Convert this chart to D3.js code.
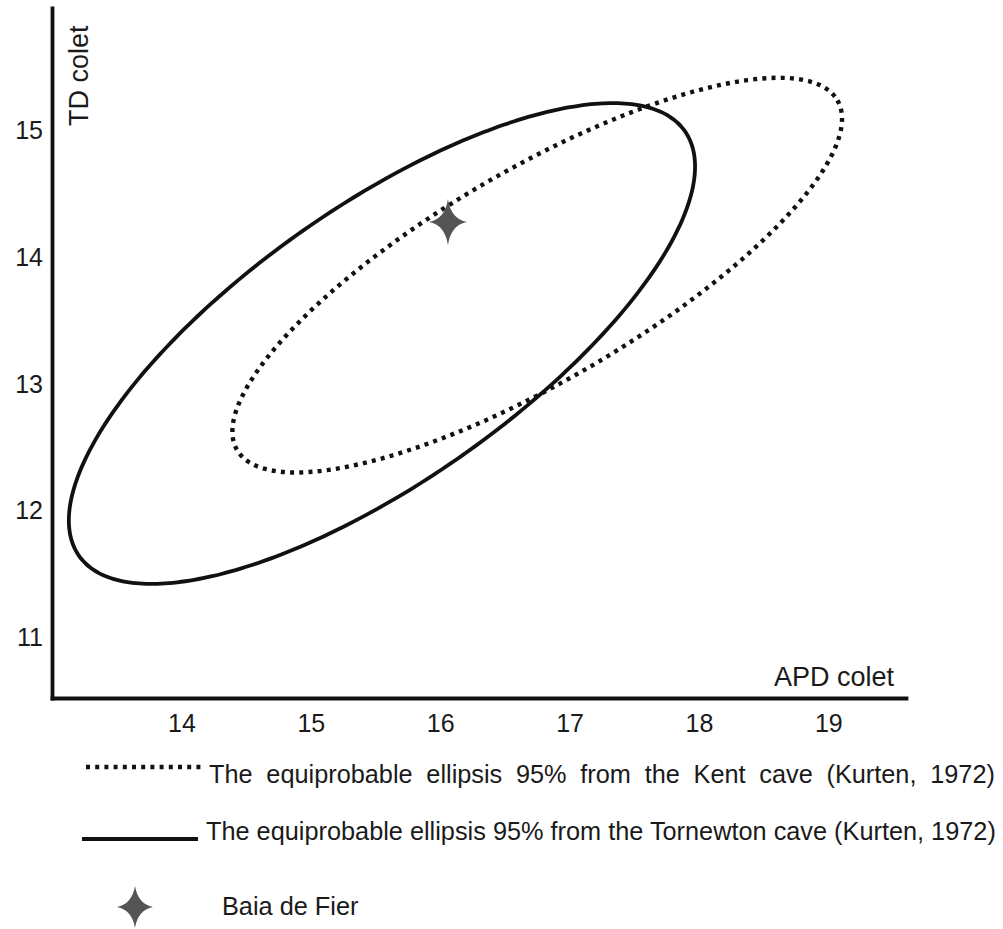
<!DOCTYPE html>
<html>
<head>
<meta charset="utf-8">
<script src="https://cdn.jsdelivr.net/npm/d3@7"></script>
<style>
  body { margin: 0; background: #fff; }
  text { font-family: "Liberation Sans", Arial, sans-serif; fill: #1a1a1a; }
</style>
</head>
<body>
<div class="canva"></div>
<script>
// tick values
const xTicks = [14, 15, 16, 17, 18, 19];
const yTicks = [11, 12, 13, 14, 15];

// ellipses (data units): centre, semi axes, tilt in degrees
const ellipseNames = ["Kent", "Tornewton"];
const ellipseCx = [16.75, 15.55];
const ellipseCy = [13.86, 13.32];
const ellipseA = [2.70, 2.88];
const ellipseB = [0.83, 1.08];
const ellipseAngle = [30.9, 35.8];

// Baia de Fier point
const pointX = [16.06];
const pointY = [14.28];

const legendLabels = [
  "The equiprobable ellipsis 95% from the Kent cave (Kurten, 1972)",
  "The equiprobable ellipsis 95% from the Tornewton cave (Kurten, 1972)",
  "Baia de Fier"
];

const svg = d3.select(".canva").append("svg")
  .attr("width", 1003)
  .attr("height", 929);

const x = d3.scaleLinear().domain([13, 19.6]).range([52, 906]);
const y = d3.scaleLinear().domain([10.52, 15.97]).range([698, 8]);

// axes
const xAxis = d3.axisBottom(x).tickValues(xTicks).tickFormat(d3.format("d"))
  .tickSize(0).tickSizeOuter(0).tickPadding(16);
const yAxis = d3.axisLeft(y).tickValues(yTicks).tickFormat(d3.format("d"))
  .tickSize(0).tickSizeOuter(0).tickPadding(9);

const gx = svg.append("g").attr("transform", `translate(0, ${y.range()[0]})`).call(xAxis);
const gy = svg.append("g").attr("transform", `translate(${x.range()[0]}, 0)`).call(yAxis);
[gx, gy].forEach(g => {
  g.attr("font-size", null).attr("font-family", null);
  g.select(".domain").attr("stroke", "#111").attr("stroke-width", 3.8).attr("stroke-linecap", "square");
  g.selectAll("text")
    .style("font-size", "25px").attr("fill", "#1a1a1a");
});

// axis titles
svg.append("text")
  .attr("text-anchor", "end")
  .attr("x", 894).attr("y", 686)
  .style("font-size", "27px")
  .text("APD colet");
svg.append("text")
  .attr("text-anchor", "start")
  .attr("transform", "translate(88, 126) rotate(-90)")
  .style("font-size", "27px")
  .text("TD colet");

// ellipse outlines sampled around the parametric angle
const steps = d3.range(0, 360, 2).map(d => d * Math.PI / 180);
const line = d3.line()
  .x(d => x(d[0]))
  .y(d => y(d[1]))
  .curve(d3.curveCardinalClosed);

function ellipsePoints(i) {
  const th = ellipseAngle[i] * Math.PI / 180;
  return steps.map(t => [
    ellipseCx[i] + ellipseA[i] * Math.cos(t) * Math.cos(th) - ellipseB[i] * Math.sin(t) * Math.sin(th),
    ellipseCy[i] + ellipseA[i] * Math.cos(t) * Math.sin(th) + ellipseB[i] * Math.sin(t) * Math.cos(th)
  ]);
}

const dotted = "4,5.2";

svg.selectAll("path.ellipse")
  .data(ellipseNames)
  .enter()
  .append("path")
  .attr("class", "ellipse")
  .attr("d", (d, i) => line(ellipsePoints(i)))
  .attr("fill", "none")
  .attr("stroke", "#111")
  .attr("stroke-width", (d, i) => i === 0 ? 4.4 : 3.8)
  .attr("stroke-dasharray", (d, i) => i === 0 ? dotted : null);

// four pointed star
function star(h, v, w) {
  return `M0,${-v} Q${w},${-w} ${h},0 Q${w},${w} 0,${v} Q${-w},${w} ${-h},0 Q${-w},${-w} 0,${-v} Z`;
}

svg.selectAll("path.point")
  .data(pointX)
  .enter()
  .append("path")
  .attr("class", "point")
  .attr("transform", (d, i) => `translate(${x(d)}, ${y(pointY[i])})`)
  .attr("d", star(19, 23, 3))
  .attr("fill", "#555");

// legend
const legend = svg.append("g");
legend.append("line")
  .attr("x1", 86).attr("x2", 202).attr("y1", 767).attr("y2", 767)
  .attr("stroke", "#111").attr("stroke-width", 4.4).attr("stroke-dasharray", dotted);
legend.append("line")
  .attr("x1", 82).attr("x2", 198).attr("y1", 839).attr("y2", 839)
  .attr("stroke", "#111").attr("stroke-width", 3.8);
legend.append("path")
  .attr("transform", "translate(135, 907)")
  .attr("d", star(18, 21, 3))
  .attr("fill", "#555");

legend.append("text").attr("x", 209).attr("y", 783)
  .style("font-size", "25.3px").style("word-spacing", "6.7px")
  .text(legendLabels[0]);
legend.append("text").attr("x", 206).attr("y", 840)
  .style("font-size", "25.3px")
  .text(legendLabels[1]);
legend.append("text").attr("x", 222).attr("y", 915)
  .style("font-size", "25.3px")
  .text(legendLabels[2]);
</script>
</body>
</html>
